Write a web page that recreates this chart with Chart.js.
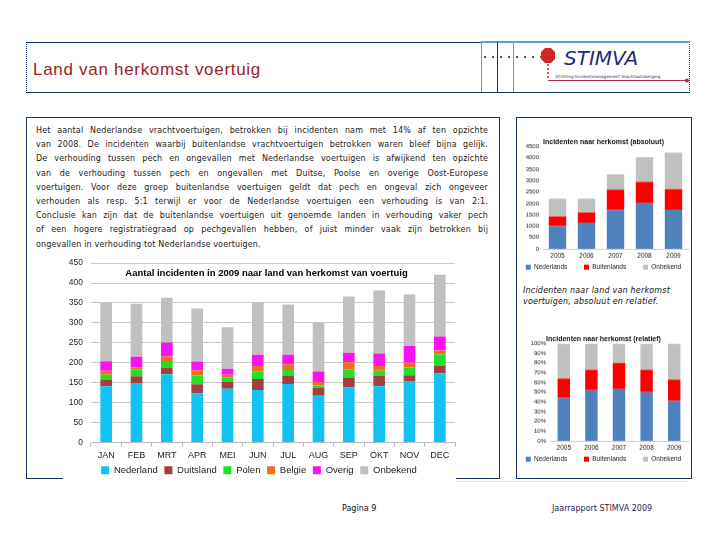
<!DOCTYPE html>
<html>
<head>
<meta charset="utf-8">
<script src="https://cdn.jsdelivr.net/npm/chart.js@4.4.0/dist/chart.umd.min.js"></script>
<style>
  body { margin: 0; width: 720px; height: 540px; background: #fff; position: relative; overflow: hidden; font-family: "DejaVu Sans", sans-serif; }
  .abs { position: absolute; }
  #deco { left: 0; top: 0; }
  #kop { left: 33px; top: 60px; font: 17px "Liberation Sans", sans-serif; letter-spacing: 0.7px; color: #9b2226; }
  #tekst { left: 36px; top: 124px; width: 452px; font-size: 8px; line-height: 14.2px; color: #222; letter-spacing: 0.15px; }
  #tekst span { display: block; text-align: justify; text-align-last: justify; white-space: nowrap; }
  #tekst span.last { text-align-last: left; }
  #bijschrift { left: 523px; top: 285px; width: 166px; font-size: 8px; font-style: italic; line-height: 11px; color: #111; letter-spacing: 0.2px; }
  #voet1 { left: 342px; top: 504px; font: 8px "DejaVu Sans", sans-serif; color: #111; }
  #voet2 { left: 552px; top: 504px; font: 8px "DejaVu Sans", sans-serif; color: #1f2a5a; }
  #maand { left: 63px; top: 250px; width: 393px; height: 235px; background: #fff; }
  #abs { left: 519px; top: 135px; width: 171px; height: 144.5px; }
  #rel { left: 519px; top: 332px; width: 171px; height: 139.5px; }
</style>
</head>
<body>
<svg id="deco" class="abs" width="720" height="540">
  <!-- kop -->
  <line x1="26" y1="42.5" x2="690" y2="42.5" stroke="#17365d" stroke-width="1"/>
  <line x1="26" y1="92.5" x2="690" y2="92.5" stroke="#17365d" stroke-width="1"/>
  <line x1="26.5" y1="42" x2="26.5" y2="92" stroke="#17365d" stroke-dasharray="1,1"/>
  <line x1="689.5" y1="42" x2="689.5" y2="92" stroke="#17365d" stroke-dasharray="1,1"/>
  <line x1="481" y1="42" x2="690" y2="42" stroke="#4bacc6" stroke-width="2"/>
  <line x1="481.5" y1="42" x2="481.5" y2="92" stroke="#4bacc6"/>
  <line x1="497.5" y1="42" x2="497.5" y2="92" stroke="#17365d"/>
  <line x1="513.5" y1="42" x2="513.5" y2="92" stroke="#4bacc6"/>
  <!-- logo -->
  <line x1="484" y1="57" x2="541" y2="57" stroke="#c0282a" stroke-width="2" stroke-dasharray="2,6"/>
  <polygon points="545,48 551,48 555,52 555,59 551,63 545,63 541,59 541,52" fill="#d0262a"/>
  <line x1="548" y1="64" x2="548" y2="80" stroke="#c0282a" stroke-width="1.5" stroke-dasharray="2,2"/>
  <line x1="548" y1="80.5" x2="687" y2="80.5" stroke="#a83040" stroke-width="1"/>
  <circle cx="687" cy="80.5" r="2" fill="#a83040"/>
  <text x="564" y="65" font-family="DejaVu Sans" font-style="italic" font-size="20" fill="#1f2a7a">STIMVA</text>
  <text x="555" y="77.5" font-family="DejaVu Sans" font-size="4.2" fill="#1f2a7a">Stichting Incidentmanagement Vrachtautoberging</text>
  <!-- kaders -->
  <rect x="26.5" y="117.5" width="473" height="361" fill="none" stroke="#17365d"/>
  <rect x="516.5" y="117.5" width="175" height="361" fill="none" stroke="#17365d"/>
  <line x1="453" y1="481.5" x2="688" y2="481.5" stroke="#dbe8f3"/>
</svg>

<div id="kop" class="abs">Land van herkomst voertuig</div>
<div id="tekst" class="abs">
  <span>Het aantal Nederlandse vrachtvoertuigen, betrokken bij incidenten nam met 14% af ten opzichte</span>
  <span>van 2008. De incidenten waarbij buitenlandse vrachtvoertuigen betrokken waren bleef bijna gelijk.</span>
  <span>De verhouding tussen pech en ongevallen met Nederlandse voertuigen is afwijkend ten opzichte</span>
  <span>van de verhouding tussen pech en ongevallen met Duitse, Poolse en overige Oost-Europese</span>
  <span>voertuigen. Voor deze groep buitenlandse voertuigen geldt dat pech en ongeval zich ongeveer</span>
  <span>verhouden als resp. 5:1 terwijl er voor de Nederlandse voertuigen een verhouding is van 2:1.</span>
  <span>Conclusie kan zijn dat de buitenlandse voertuigen uit genoemde landen in verhouding vaker pech</span>
  <span>of een hogere registratiegraad op pechgevallen hebben, of juist minder vaak zijn betrokken bij</span>
  <span class="last">ongevallen in verhouding tot Nederlandse voertuigen.</span>
</div>
<div id="bijschrift" class="abs">Incidenten naar land van herkomst voertuigen, absoluut en relatief.</div>
<div id="voet1" class="abs">Pagina 9</div>
<div id="voet2" class="abs">Jaarrapport STIMVA 2009</div>

<div id="maand" class="abs"><canvas id="maandChart"></canvas></div>
<div id="abs" class="abs"><canvas id="absChart"></canvas></div>
<div id="rel" class="abs"><canvas id="relChart"></canvas></div>

<script>
// incidenten per maand 2009
const months = ["JAN", "FEB", "MRT", "APR", "MEI", "JUN", "JUL", "AUG", "SEP", "OKT", "NOV", "DEC"];
const nederland = [141, 149, 171, 123, 135, 132, 147, 117, 138, 141, 154, 173];
const duitsland = [16, 17, 17, 23, 17, 27, 21, 20, 25, 26, 15, 20];
const polen = [13, 18, 14, 22, 11, 20, 14, 6, 21, 13, 19, 28];
const belgie = [10, 5, 14, 13, 7, 13, 14, 9, 17, 12, 12, 10];
const overig = [24, 26, 35, 22, 15, 28, 24, 26, 24, 31, 42, 35];
const onbekend = [146, 133, 112, 133, 104, 131, 126, 122, 141, 158, 129, 155];
const maandTicks = [0, 50, 100, 150, 200, 250, 300, 350, 400, 450];

// per jaar
const years = ["2005", "2006", "2007", "2008", "2009"];
const absNederlands = [1000, 1150, 1700, 2000, 1730];
const absBuitenlands = [420, 450, 900, 950, 890];
const absOnbekend = [780, 600, 680, 1080, 1610];
const relNederlands = [44, 52, 53, 50, 41];
const relBuitenlands = [20, 21, 27, 23, 22];
const relOnbekend = [36, 27, 20, 27, 37];

Chart.defaults.font.family = '"Liberation Sans", sans-serif';
Chart.defaults.color = "#333";
Chart.defaults.animation = false;

// extra horizontale ruimte tussen legenda-items, zonder extra hoogte
function ruimeLegenda(extra) {
  return chart => {
    const items = Chart.defaults.plugins.legend.labels.generateLabels(chart);
    items.forEach((it, i) => { if (i < items.length - 1) it.text += extra; });
    return items;
  };
}

// titel over het plotgebied heen (zoals in Excel)
const overlayTitle = {
  id: "overlayTitle",
  afterDraw(chart, args, opts) {
    const c = chart.ctx;
    c.save();
    c.font = "bold 9.5px 'Liberation Sans', sans-serif";
    c.fillStyle = "#000";
    c.textAlign = "center";
    c.textBaseline = "middle";
    c.fillText(opts.text, chart.width / 2 + 7, 23);
    c.restore();
  }
};

new Chart(document.getElementById("maandChart"), {
  type: "bar",
  plugins: [overlayTitle],
  data: {
    labels: months,
    datasets: [
      { label: "Nederland", data: nederland, backgroundColor: "#12c2f2" },
      { label: "Duitsland", data: duitsland, backgroundColor: "#a3403d" },
      { label: "Polen", data: polen, backgroundColor: "#22e02a" },
      { label: "Belgie", data: belgie, backgroundColor: "#f26c1e" },
      { label: "Overig", data: overig, backgroundColor: "#f813f0" },
      { label: "Onbekend", data: onbekend, backgroundColor: "#c0c0c0" },
    ],
  },
  options: {
    responsive: true,
    maintainAspectRatio: false,
    layout: { padding: { top: 1, right: 1, left: 0, bottom: 0 } },
    datasets: { bar: { categoryPercentage: 0.8, barPercentage: 0.48 } },
    plugins: {
      overlayTitle: { text: "Aantal incidenten in 2009 naar land van herkomst van voertuig" },
      legend: {
        position: "bottom",
        labels: { boxWidth: 8, boxHeight: 8, padding: 0, font: { size: 9.5 }, color: "#222",
                  generateLabels: ruimeLegenda("\u2002\u2009") },
      },
      tooltip: { enabled: false },
    },
    scales: {
      x: {
        stacked: true,
        grid: { display: true, drawOnChartArea: false, offset: true, tickLength: 4, color: "#bbb" },
        border: { color: "#bbb" },
        ticks: { font: { size: 9, lineHeight: 1 }, color: "#222", padding: 5 },
      },
      y: {
        stacked: true,
        min: 0,
        max: 450,
        afterBuildTicks(scale) { scale.ticks = maandTicks.map(v => ({ value: v })); },
        afterFit(scale) { scale.width = 28; },
        grid: { color: "#c8c8c8", drawTicks: false },
        border: { display: false },
        ticks: { font: { size: 8.5 }, color: "#222", padding: 8 },
      },
    },
  },
});

function jaarChart(id, titel, sets, max, step, fmt, yWidth, barPct, labelPad, legendPad) {
  return new Chart(document.getElementById(id), {
    type: "bar",
    data: {
      labels: years,
      datasets: [
        { label: "Nederlands", data: sets[0], backgroundColor: "#4f81bd" },
        { label: "Buitenlands", data: sets[1], backgroundColor: "#ff0000" },
        { label: "Onbekend", data: sets[2], backgroundColor: "#c0c0c0" },
      ],
    },
    options: {
      responsive: true,
      maintainAspectRatio: false,
      layout: { padding: { top: 0, right: 2, left: 0, bottom: 0 } },
      datasets: { bar: { categoryPercentage: 1, barPercentage: barPct } },
      plugins: {
        title: { display: true, text: titel, font: { size: 7, weight: "bold" }, color: "#111", padding: { top: 3, bottom: 0 } },
        legend: {
          position: "bottom",
          labels: { boxWidth: 5, boxHeight: 5, padding: legendPad, font: { size: 6.5 }, color: "#222",
                    generateLabels: ruimeLegenda("\u2003\u2003\u2002") },
        },
        tooltip: { enabled: false },
      },
      scales: {
        x: {
          stacked: true,
          grid: { display: false, drawTicks: false },
          border: { color: "#ccc" },
          ticks: { font: { size: 6.5, lineHeight: 1 }, color: "#222", padding: labelPad },
        },
        y: {
          stacked: true,
          min: 0,
          max: max,
          afterFit(scale) { scale.width = yWidth; },
          grid: { display: false, drawTicks: false },
          border: { display: false },
          ticks: { stepSize: step, autoSkip: false, font: { size: 6 }, color: "#222", padding: 4, callback: fmt },
        },
      },
    },
  });
}

jaarChart("absChart", "Incidenten naar herkomst (absoluut)",
  [absNederlands, absBuitenlands, absOnbekend], 4500, 500, v => v, 24, 0.6, 4, 0.5);
jaarChart("relChart", "Incidenten naar herkomst (relatief)",
  [relNederlands, relBuitenlands, relOnbekend], 100, 10, v => v + "%", 31, 0.45, 4, 0.5);
</script>
</body>
</html>
